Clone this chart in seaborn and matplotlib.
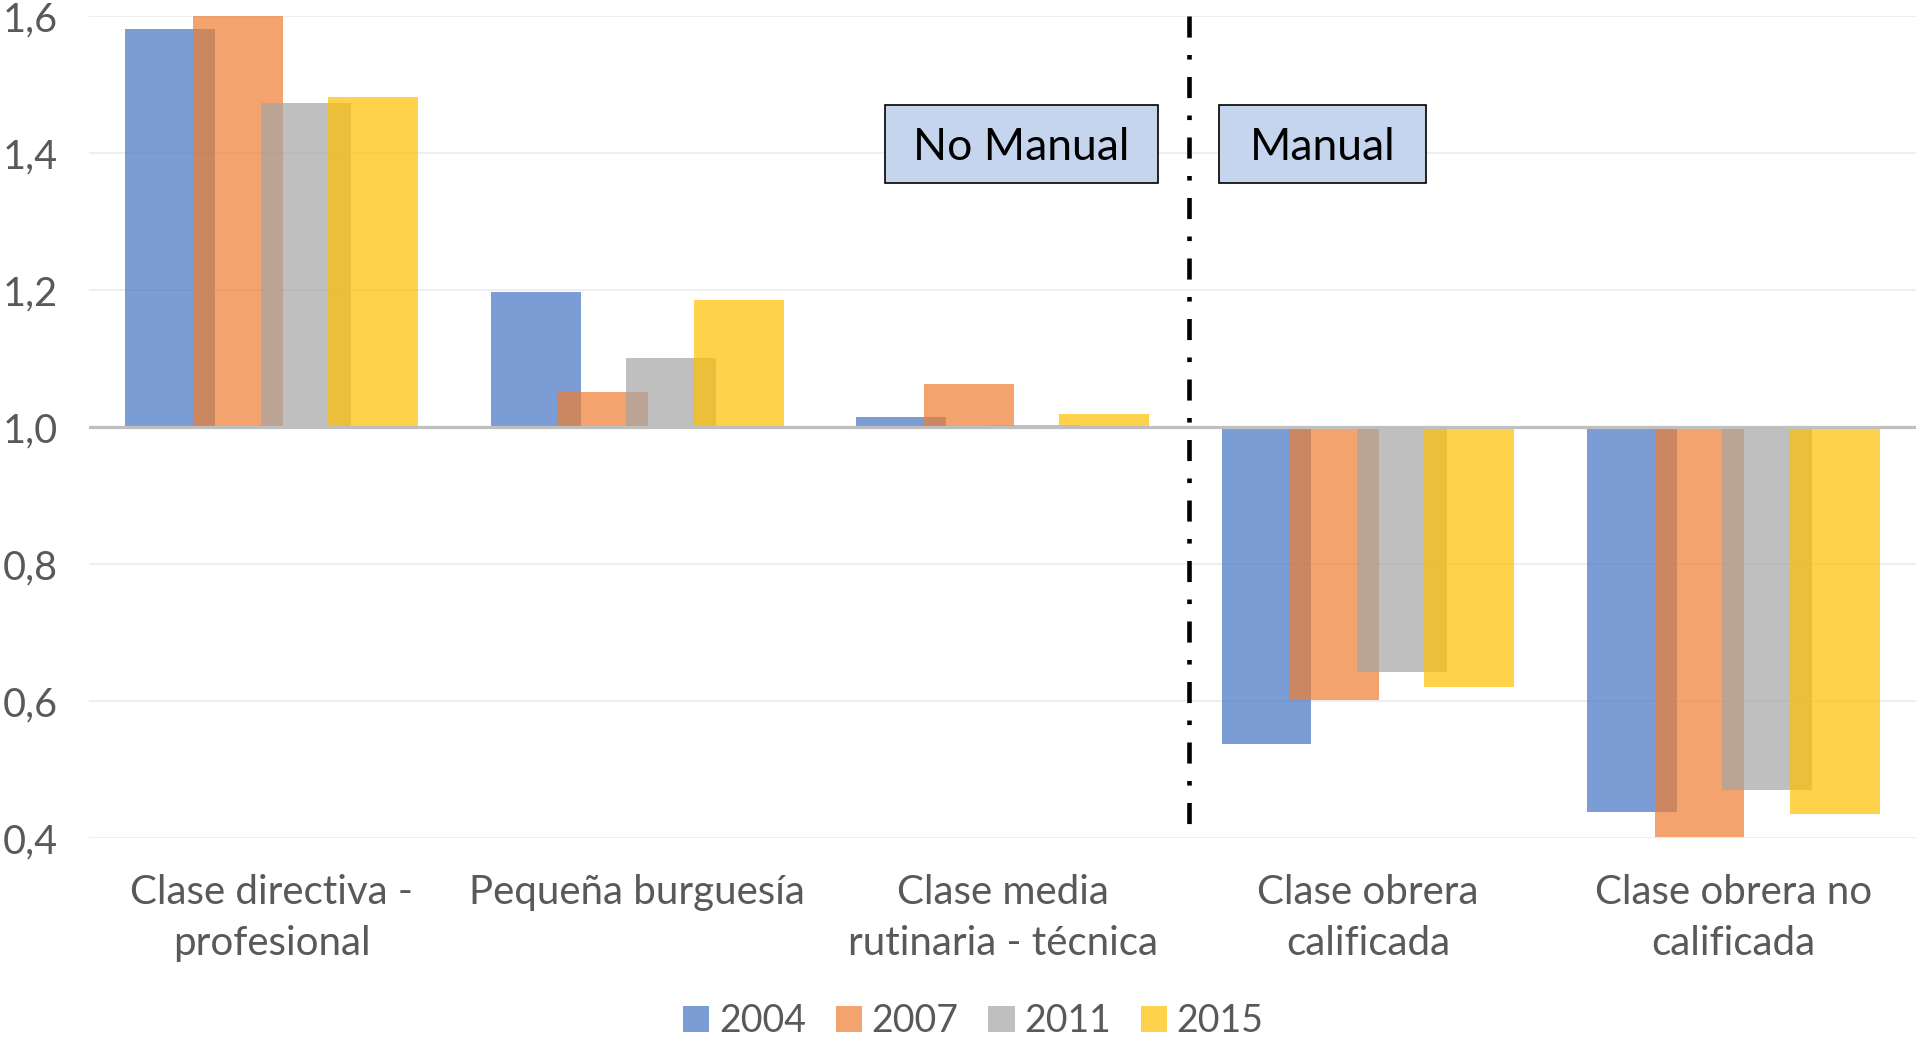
import matplotlib
matplotlib.use("Agg")
import matplotlib.pyplot as plt
from matplotlib.patches import Patch, Rectangle
from matplotlib.ticker import FuncFormatter
import seaborn as sns
import pandas as pd

# data (ratio, baseline 1.0)
clases = ["Clase directiva -\nprofesional", "Pequeña burguesía",
          "Clase media\nrutinaria - técnica", "Clase obrera\ncalificada",
          "Clase obrera no\ncalificada"]
anios = ["2004", "2007", "2011", "2015"]
v2004 = [1.581, 1.197, 1.014, 0.537, 0.438]
v2007 = [1.600, 1.051, 1.063, 0.601, 0.402]
v2011 = [1.473, 1.100, 1.003, 0.643, 0.470]
v2015 = [1.482, 1.185, 1.019, 0.620, 0.435]
colores = ["#4472C4", "#ED7D31", "#A5A5A5", "#FFC000"]

base = 1.0
rows = []
for anio, vals in zip(anios, [v2004, v2007, v2011, v2015]):
    for c, v in zip(clases, vals):
        rows.append({"clase": c, "anio": anio, "dif": v - base})
df = pd.DataFrame(rows)

sns.set_style("white")
plt.rcParams["font.family"] = ["Lato", "DejaVu Sans"]
gris_txt = "#595959"

fig = plt.figure(figsize=(19.16, 10.38), dpi=100)
ax = fig.add_axes([0.0465, 0.1927, 0.9535, 0.7919])

sns.barplot(data=df, x="clase", y="dif", hue="anio", hue_order=anios,
            palette=colores, saturation=1, width=0.74, bottom=base,
            alpha=0.7, errorbar=None, linewidth=0, legend=False, ax=ax)

# Excel-style overlapping bars: widen each bar around its centre
bar_w = 0.246
for p in ax.patches:
    cx = p.get_x() + p.get_width() / 2
    p.set_width(bar_w)
    p.set_x(cx - bar_w / 2)

ax.set_xlim(-0.5, 4.5)
ax.set_ylim(0.4, 1.6)
ax.set_yticks([0.4, 0.6, 0.8, 1.0, 1.2, 1.4, 1.6])
ax.yaxis.set_major_formatter(FuncFormatter(lambda v, _: f"{v:.1f}".replace(".", ",")))
ax.grid(axis="y", color="#EBEBEB", linewidth=1.2, zorder=0)
ax.set_axisbelow(True)
for s in ax.spines.values():
    s.set_visible(False)
ax.axhline(base, color="#BFBFBF", linewidth=2.3, zorder=5)

ax.tick_params(axis="y", length=0, pad=22.5, labelsize=28.5, labelcolor=gris_txt)
ax.tick_params(axis="x", length=0, pad=26, labelsize=29, labelcolor=gris_txt)
for lab in ax.get_xticklabels():
    lab.set_linespacing(1.45)
ax.set_xlabel("")
ax.set_ylabel("")

# divider between manual / non-manual classes
ax.plot([2.51, 2.51], [1.6, 0.4], color="black", linewidth=3.3,
        linestyle=(0, (4.6, 3.8, 1.0, 3.8)), zorder=6,
        dash_capstyle="butt")

# labelled boxes
for x0, x1, txt in [(1.678, 2.426, "No Manual"), (2.593, 3.159, "Manual")]:
    ax.add_patch(Rectangle((x0, 1.356), x1 - x0, 0.114, facecolor="#C5D5EE",
                           edgecolor="black", linewidth=1.2, zorder=7))
    ax.text((x0 + x1) / 2, 1.408, txt, ha="center", va="center",
            fontsize=32, color="black", zorder=8)

handles = [Patch(facecolor=c, alpha=0.7, linewidth=0) for c in colores]
fig.legend(handles, anios, loc="center", bbox_to_anchor=(0.508, 0.016),
           ncol=4, frameon=False, fontsize=27, handlelength=0.7,
           handleheight=0.7, handletextpad=0.25, columnspacing=0.8,
           labelcolor=gris_txt)

fig.savefig("out.png", dpi=100)
plt.close(fig)
